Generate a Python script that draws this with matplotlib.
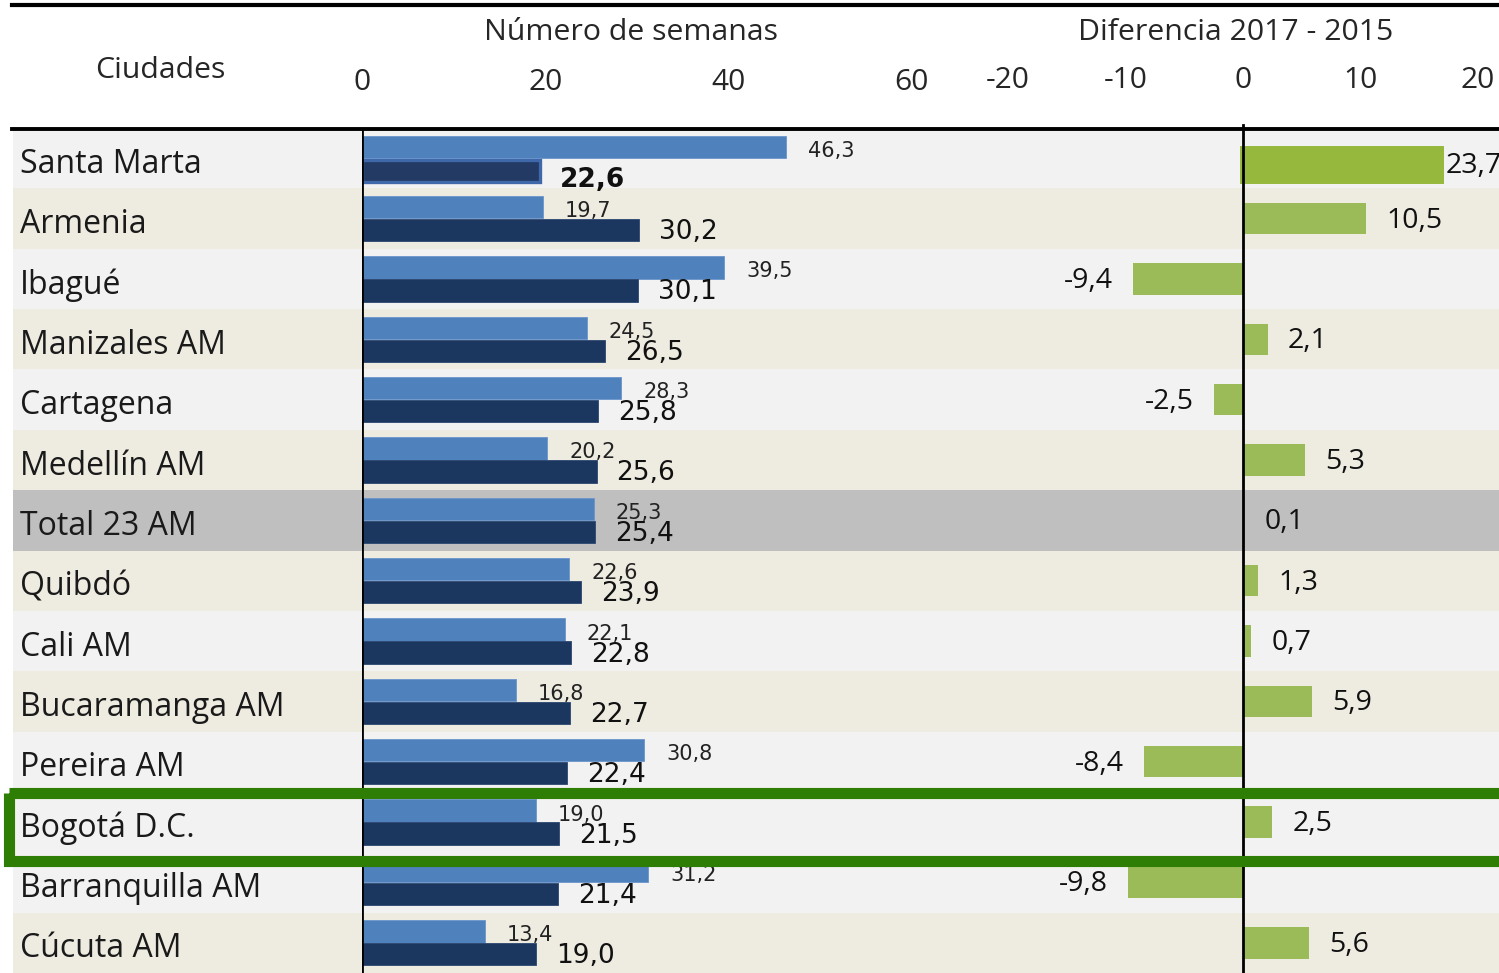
import matplotlib
matplotlib.use("Agg")
import matplotlib.pyplot as plt
import matplotlib.transforms as mtransforms
from matplotlib.patches import Rectangle
from matplotlib.lines import Line2D

# ---------------- data ----------------
cities = ["Santa Marta", "Armenia", "Ibagué", "Manizales AM", "Cartagena",
          "Medellín AM", "Total 23 AM", "Quibdó", "Cali AM", "Bucaramanga AM",
          "Pereira AM", "Bogotá D.C.", "Barranquilla AM", "Cúcuta AM"]
weeks_2015 = [46.3, 19.7, 39.5, 24.5, 28.3, 20.2, 25.3, 22.6, 22.1, 16.8, 30.8, 19.0, 31.2, 13.4]
# labelled values (as printed)
weeks_2017 = [22.6, 30.2, 30.1, 26.5, 25.8, 25.6, 25.4, 23.9, 22.8, 22.7, 22.4, 21.5, 21.4, 19.0]
diff_17_15 = [23.7, 10.5, -9.4, 2.1, -2.5, 5.3, 0.1, 1.3, 0.7, 5.9, -8.4, 2.5, -9.8, 5.6]
# bar lengths as drawn in the picture (Santa Marta bars are drawn shorter than their labels)
weeks_2017_bar = [19.4, 30.2, 30.1, 26.5, 25.8, 25.6, 25.4, 23.9, 22.8, 22.7, 22.4, 21.5, 21.4, 19.0]
diff_bar = [16.8, 10.5, -9.4, 2.1, -2.5, 5.3, 0.1, 1.3, 0.7, 5.9, -8.4, 2.5, -9.8, 5.6]
left_ticks = [0, 20, 40, 60]
right_ticks = [-20, -10, 0, 10, 20]
title_left = "Número de semanas"
title_right = "Diferencia 2017 - 2015"
title_cities = "Ciudades"

# ---------------- layout ----------------
W, H = 1499, 973
DPI = 100
fig = plt.figure(figsize=(W / DPI, H / DPI), dpi=DPI)
fig.patch.set_facecolor("white")

CAL = ["Open Sans", "DejaVu Sans"]
VAL = ["DejaVu Sans"]

def fx(px):
    return px / W

def fy(py):
    return 1 - py / H

row_top, row_bot = 128, 973
n = len(cities)
ylims = (n - 0.5, -0.5)

# background axes (row bands)
bg = fig.add_axes([0, fy(row_bot), 1, (row_bot - row_top) / H])
bg.set_xlim(0, W)
bg.set_ylim(*ylims)
bg.axis("off")
beige = "#eeebe0"
light = "#f2f2f2"
for i, c in enumerate(cities):
    if c.startswith("Total"):
        col = "#bfbfbf"
    elif c.startswith("Bogot"):
        col = light
    else:
        col = light if i % 2 == 0 else beige
    bg.axhspan(i - 0.5, i + 0.5, xmin=13 / W, xmax=1, color=col, lw=0)
    bg.text(20, i + 0.1, c, ha="left", va="center", fontsize=23,
            family=CAL, color="#1a1a1a")

# left axes: number of weeks
x0_left, ppu_left = 362, 183.3 / 20
xmax_left = 70
axL = fig.add_axes([fx(x0_left), fy(row_bot), xmax_left * ppu_left / W, (row_bot - row_top) / H])
axL.set_xlim(0, xmax_left)
axL.set_ylim(*ylims)
axL.patch.set_alpha(0)
axL.axis("off")

# right axes: difference
x0_right, ppu_right = 1243, 11.75
xmin_r, xmax_r = -20, 21.8
axR = fig.add_axes([fx(x0_right + xmin_r * ppu_right), fy(row_bot),
                    (xmax_r - xmin_r) * ppu_right / W, (row_bot - row_top) / H])
axR.set_xlim(xmin_r, xmax_r)
axR.set_ylim(*ylims)
axR.patch.set_alpha(0)
axR.axis("off")

ys = list(range(n))
c15, c17 = "#4f81bd", "#1b3760"
green, green_sel = "#9bbb59", "#95b83d"

def fmt(v):
    return f"{v:.1f}".replace(".", ",")

# bars
bars15 = axL.barh([y - 0.19 for y in ys], weeks_2015, height=0.37, color=c15,
                  edgecolor="#6b95cc", lw=0.6, zorder=3)
bars17 = axL.barh([y + 0.19 + (0.02 if y == 0 else 0) for y in ys], weeks_2017_bar,
                  height=0.37, color=c17, edgecolor="#2c4770", lw=0.6, zorder=3)
bars17[0].set_facecolor("#233a64")
bars17[0].set_edgecolor("#3e68aa")
bars17[0].set_linewidth(2.4)

for i in ys:
    axL.annotate(fmt(weeks_2015[i]), xy=(weeks_2015[i], i - 0.19), xytext=(22, -4),
                 textcoords="offset pixels", ha="left", va="center", fontsize=15,
                 family=VAL, color="#222222", zorder=5)
    axL.annotate(fmt(weeks_2017[i]), xy=(weeks_2017_bar[i], i + 0.19),
                 xytext=(20, -10 if i == 0 else -2),
                 textcoords="offset pixels", ha="left", va="center", fontsize=19,
                 family=VAL, color="#111111", zorder=5,
                 fontweight="bold" if i == 0 else "normal")

axL.axvline(0, color="black", lw=2, zorder=4)

yR = [y + (0.1 if y == 0 else 0) for y in ys]
barsR = axR.barh(yR, diff_bar, height=0.52, color=green, lw=0, zorder=3)
barsR[0].set_facecolor(green_sel)
barsR[0].set_edgecolor(green_sel)
barsR[0].set_linewidth(5)
for i in ys:
    v, b = diff_17_15[i], diff_bar[i]
    if v >= 0:
        off = 5 if b < v - 1 else 20
        axR.annotate(fmt(v), xy=(b, yR[i]), xytext=(off, -2), textcoords="offset pixels",
                     ha="left", va="center", fontsize=20.5, family=CAL, color="#111111",
                     annotation_clip=False, zorder=5)
    else:
        axR.annotate(fmt(v), xy=(b, yR[i]), xytext=(-20, -2), textcoords="offset pixels",
                     ha="right", va="center", fontsize=20.5, family=CAL, color="#111111",
                     annotation_clip=False, zorder=5)
axR.plot([0, 0], [-0.55, n - 0.5], color="black", lw=2, zorder=4, clip_on=False)

# headers and tick labels
tL = mtransforms.blended_transform_factory(axL.transData, fig.transFigure)
tR = mtransforms.blended_transform_factory(axR.transData, fig.transFigure)
for t in left_ticks:
    fig.text(t, fy(83), str(t), transform=tL, ha="center", va="center",
             fontsize=21.5, family=CAL, color="#262626")
for t in right_ticks:
    fig.text(t, fy(81), str(t), transform=tR, ha="center", va="center",
             fontsize=21.5, family=CAL, color="#262626")
fig.text(fx(631), fy(33), title_left, ha="center", va="center", fontsize=21.8,
         family=CAL, color="#262626")
fig.text(fx(1236), fy(33), title_right, ha="center", va="center", fontsize=21.8,
         family=CAL, color="#262626")
fig.text(fx(160), fy(71), title_cities, ha="center", va="center", fontsize=21.8,
         family=CAL, color="#262626")

# rules
fig.add_artist(Line2D([fx(12), 1], [fy(5), fy(5)], color="black", lw=3))
fig.add_artist(Line2D([fx(12), 1], [fy(129), fy(129)], color="black", lw=2.8))

# highlight box around Bogotá
ib = cities.index("Bogotá D.C.")
rect = Rectangle((9, ib - 0.49), 1520, 1.13, fill=False, edgecolor="#2e7d05",
                 lw=8, transform=bg.transData, clip_on=False, zorder=10)
fig.add_artist(rect)

fig.savefig("out.png", dpi=DPI)
